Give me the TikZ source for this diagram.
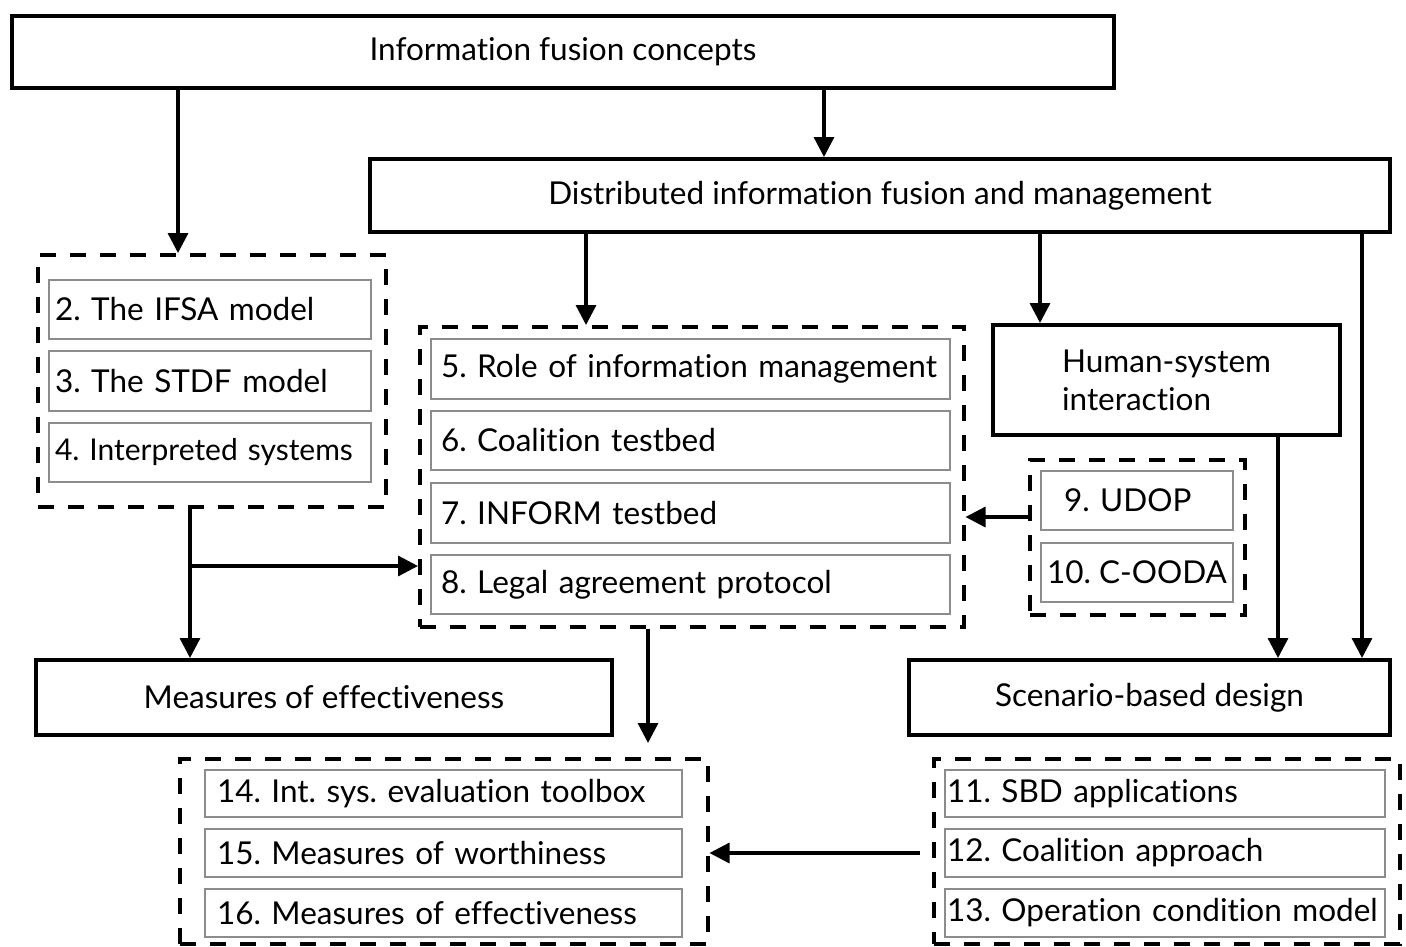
\documentclass[tikz,border=0pt]{standalone}
\usepackage{fontspec}
\setmainfont{Lato}[Ligatures=NoCommon]
\usetikzlibrary{arrows.meta}
\frenchspacing
\begin{document}
\begin{tikzpicture}[x=1pt,y=-1pt,
  txt/.style={font=\fontsize{31.5}{38}\selectfont},
  mainbox/.style={draw, line width=4pt, inner sep=0pt, anchor=north west, txt},
  groupbox/.style={draw, line width=3.5pt, dash pattern=on 16pt off 14pt, inner sep=0pt, anchor=north west},
  itembox/.style={draw=black!45, line width=2pt, anchor=north west, txt, align=left, inner xsep=12pt, inner ysep=0pt},
  arr/.style={line width=3.3pt, -{Triangle[length=20pt,width=20pt]}}]
\useasboundingbox (0,0) rectangle (1406,946);

% header boxes
\node[mainbox, minimum width=1102pt, minimum height=72pt] (concepts) at (10,14) {Information fusion concepts};
\node[mainbox, minimum width=1020pt, minimum height=73pt] (dist) at (368,157) {Distributed information fusion and management};

% left group: chapters 2-4
\node[groupbox, minimum width=348pt, minimum height=252pt] (grpA) at (36,253) {};
\node[itembox, minimum width=322pt, minimum height=59pt, text width=310pt, inner xsep=6pt] (c2) at (48,279) {\mbox{2. The IFSA model}};
\node[itembox, minimum width=322pt, minimum height=60pt, text width=310pt, inner xsep=6pt] (c3) at (48,350) {\mbox{3. The STDF model}};
\node[itembox, minimum width=322pt, minimum height=59pt, text width=310pt, inner xsep=6pt, font=\fontsize{30}{36}\selectfont] (c4) at (48,422) {\mbox{4. Interpreted systems}};

% middle group: chapters 5-8
\node[groupbox, minimum width=544pt, minimum height=300pt] (grpB) at (418,325) {};
\node[itembox, minimum width=519pt, minimum height=60pt, text width=499pt, inner xsep=10pt] (c5) at (430,338) {\mbox{5. Role of information management}};
\node[itembox, minimum width=519pt, minimum height=59pt, text width=499pt, inner xsep=10pt] (c6) at (430,410) {\mbox{6. Coalition testbed}};
\node[itembox, minimum width=519pt, minimum height=60pt, text width=499pt, inner xsep=10pt] (c7) at (430,482) {\mbox{7. INFORM testbed}};
\node[itembox, minimum width=519pt, minimum height=59pt, text width=499pt, inner xsep=10pt] (c8) at (430,554) {\mbox{8. Legal agreement protocol}};

% human-system interaction
\node[mainbox, minimum width=347pt, minimum height=110pt, align=left, font=\fontsize{31.5}{38}\selectfont] (hsi) at (991,323) {Human-system\\interaction};

% chapters 9-10
\node[groupbox, minimum width=215pt, minimum height=155pt] (grpC) at (1028,458) {};
\node[itembox, minimum width=192pt, minimum height=59pt, text width=146pt, inner xsep=23pt] (c9) at (1040,470) {\mbox{9. UDOP}};
\node[itembox, minimum width=192pt, minimum height=59pt, align=center, inner xsep=2pt] (c10) at (1040,542) {10. C-OODA};

% lower main boxes
\node[mainbox, minimum width=576pt, minimum height=75pt] (moe) at (34,658) {Measures of effectiveness};
\node[mainbox, minimum width=481pt, minimum height=75pt] (sbd) at (907,658) {Scenario-based design};

% bottom left group: chapters 14-16
\node[groupbox, minimum width=528pt, minimum height=185pt] (grpD) at (178,757) {};
\node[itembox, minimum width=477pt, minimum height=47pt, text width=453pt] (c14) at (204,769) {\mbox{14. Int. sys. evaluation toolbox}};
\node[itembox, minimum width=477pt, minimum height=48pt, text width=453pt] (c15) at (204,828) {\mbox{15. Measures of worthiness}};
\node[itembox, minimum width=477pt, minimum height=48pt, text width=453pt] (c16) at (204,888) {\mbox{16. Measures of effectiveness}};

% bottom right group: chapters 11-13
\node[groupbox, minimum width=466pt, minimum height=185pt] (grpE) at (932,757) {};
\node[itembox, minimum width=440pt, minimum height=47pt, text width=436pt, inner xsep=2pt] (c11) at (944,769) {\mbox{11. SBD applications}};
\node[itembox, minimum width=440pt, minimum height=48pt, text width=436pt, inner xsep=2pt] (c12) at (944,828) {\mbox{12. Coalition approach}};
\node[itembox, minimum width=440pt, minimum height=48pt, text width=436pt, inner xsep=2pt] (c13) at (944,888) {\mbox{13. Operation condition model}};

% connector columns and rows
\coordinate (xa) at (178,0);
\coordinate (xb) at (824,0);
\coordinate (xc) at (586,0);
\coordinate (xd) at (1040,0);
\coordinate (xe) at (1362,0);
\coordinate (xf) at (1278,0);
\coordinate (xg) at (190,0);
\coordinate (xh) at (648,0);
\coordinate (ya) at (0,517);
\coordinate (yb) at (0,566);
\coordinate (yc) at (0,853);

% connectors
\draw[arr] (xa |- concepts.south) -- (xa |- grpA.north);
\draw[arr] (xb |- concepts.south) -- (xb |- dist.north);
\draw[arr] (xc |- dist.south) -- (xc |- grpB.north);
\draw[arr] (xd |- dist.south) -- (xd |- hsi.north);
\draw[arr] (xe |- dist.south) -- (xe |- sbd.north);
\draw[arr] (xf |- hsi.south) -- (xf |- sbd.north);
\draw[arr] (grpC.west |- ya) -- (grpB.east |- ya);
\draw[arr] (xg |- grpA.south) -- (xg |- moe.north);
\draw[arr] (xg |- yb) -- (grpB.west |- yb);
\draw[arr] (xh |- grpB.south) -- ([yshift=14pt]xh |- grpD.north);
\draw[arr] ([xshift=-12pt]grpE.west |- yc) -- (grpD.east |- yc);
\end{tikzpicture}
\end{document}
